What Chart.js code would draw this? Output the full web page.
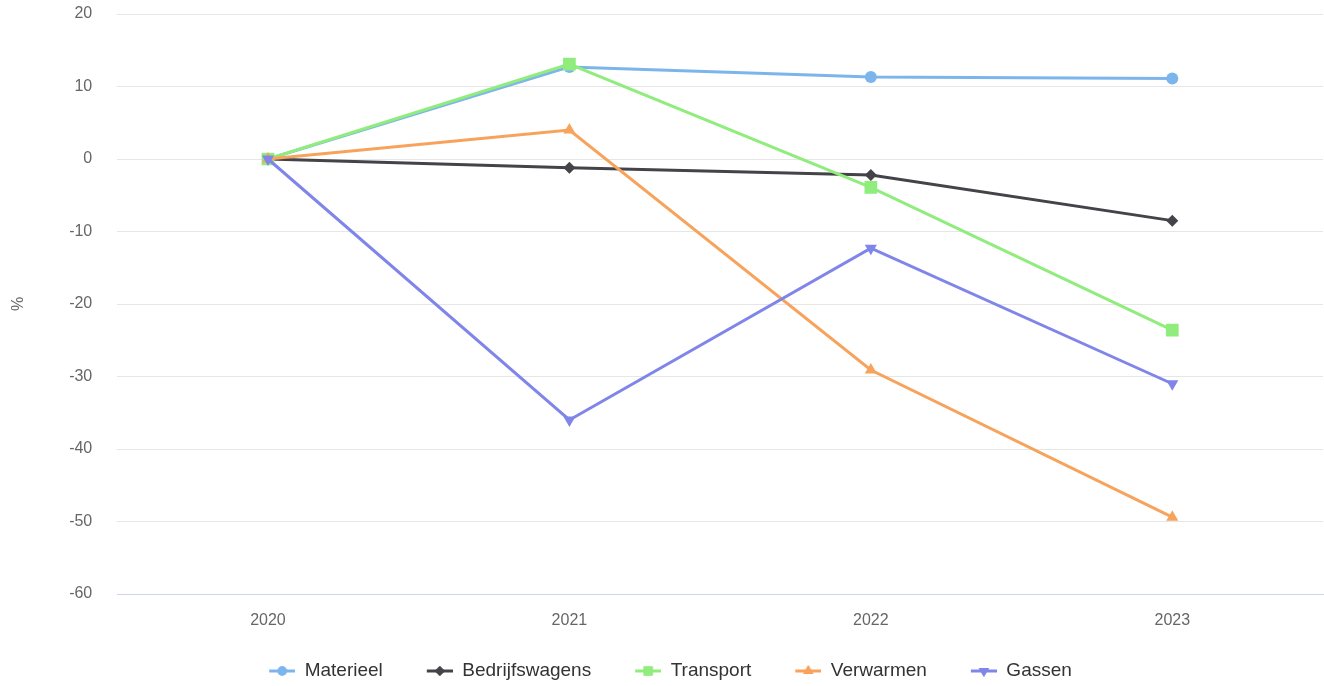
<!DOCTYPE html>
<html>
<head>
<meta charset="utf-8">
<script src="https://cdn.jsdelivr.net/npm/chart.js@4"></script>
<style>
html,body{margin:0;padding:0;background:#fff;}
#wrap{width:1324px;height:686px;position:relative;}
</style>
</head>
<body>
<div id="wrap"><canvas id="c"></canvas></div>
<script>
const years = ['2020', '2021', '2022', '2023'];
const seriesNames = ['Materieel', 'Bedrijfswagens', 'Transport', 'Verwarmen', 'Gassen'];
const materieel = [0, 12.7, 11.3, 11.1];
const bedrijfswagens = [0, -1.2, -2.2, -8.5];
const transport = [0, 13.1, -3.9, -23.6];
const verwarmen = [0, 4.0, -29.1, -49.4];
const gassen = [0, -36.0, -12.3, -31.0];
const yTicks = [20, 10, 0, -10, -20, -30, -40, -50, -60];

const colors = ['#7cb5ec', '#434348', '#90ed7d', '#f7a35c', '#8085e9'];
const styles = ['circle', 'rectRot', 'rect', 'triangle', 'triangle'];
const rotations = [0, 0, 0, 0, 180];
const radii = [6, 6, 9, 7, 7];
const values = [materieel, bedrijfswagens, transport, verwarmen, gassen];
const FONT = '"Liberation Sans", Arial, Helvetica, sans-serif';

function legendSymbol(i) {
  const gap = 18, sw = 26, h = 16;
  const cv = document.createElement('canvas');
  cv.width = gap + sw; cv.height = h;
  const g = cv.getContext('2d');
  g.strokeStyle = colors[i]; g.fillStyle = colors[i]; g.lineWidth = 3;
  g.beginPath(); g.moveTo(gap, h / 2); g.lineTo(gap + sw, h / 2); g.stroke();
  Chart.helpers.drawPoint(g, {pointStyle: styles[i], rotation: rotations[i], radius: [4.7, 5, 6.5, 6, 6][i], borderWidth: 0}, gap + sw / 2, h / 2);
  g.fill();
  return cv;
}

const datasets = seriesNames.map((name, i) => ({
  label: name,
  data: values[i],
  borderColor: colors[i],
  backgroundColor: colors[i],
  borderWidth: 3,
  pointStyle: styles[i],
  pointRotation: rotations[i],
  pointRadius: radii[i],
  pointHoverRadius: radii[i],
  pointBorderWidth: 0,
  pointBackgroundColor: colors[i],
  tension: 0,
  order: seriesNames.length - 1 - i
}));

new Chart(document.getElementById('c'), {
  type: 'line',
  data: {labels: years, datasets: datasets},
  options: {
    responsive: true,
    maintainAspectRatio: false,
    animation: false,
    events: [],
    layout: {autoPadding: false, padding: {top: 14, right: 1, left: 0, bottom: -4.5}},
    plugins: {
      tooltip: {enabled: false},
      legend: {
        position: 'bottom',
        labels: {
          usePointStyle: true,
          pointStyleWidth: 44,
          boxHeight: 16,
          padding: 26,
          color: '#333333',
          font: {family: FONT, size: 19},
          generateLabels: (chart) => seriesNames.map((name, i) => ({
            text: name,
            fillStyle: colors[i],
            strokeStyle: colors[i],
            lineWidth: 0,
            pointStyle: legendSymbol(i),
            rotation: 0,
            hidden: false,
            datasetIndex: i,
            fontColor: '#333333'
          }))
        }
      }
    },
    scales: {
      x: {
        offset: true,
        afterFit: (scale) => { scale.height = 41.5; scale.paddingLeft = 0; scale.paddingRight = 0; },
        grid: {display: false, drawTicks: false},
        border: {display: true, color: '#ccd6eb', width: 1},
        ticks: {color: '#666666', font: {family: FONT, size: 16}, padding: 17, maxRotation: 0}
      },
      y: {
        min: -60,
        max: 20,
        afterBuildTicks: (scale) => { scale.ticks = yTicks.map(v => ({value: v})); },
        afterFit: (scale) => { scale.width = 117.25; scale.paddingTop = 0; scale.paddingBottom = 0; },
        grid: {
          color: (ctx) => (ctx.tick && ctx.tick.value === -60) ? '#ccd6eb' : '#e6e6e6',
          lineWidth: 1,
          drawTicks: false
        },
        border: {display: false},
        ticks: {color: '#666666', font: {family: FONT, size: 16}, padding: 25},
        title: {
          display: true,
          text: '%',
          color: '#666666',
          font: {family: FONT, size: 16},
          padding: {top: 9.4, bottom: 0}
        }
      }
    }
  }
});
</script>
</body>
</html>
